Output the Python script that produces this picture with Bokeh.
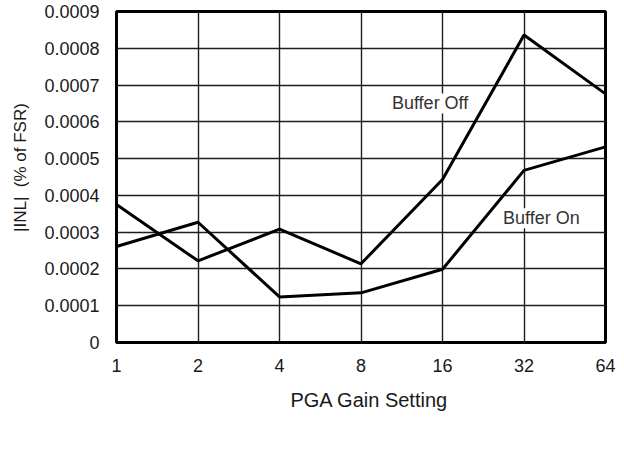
from bokeh.plotting import figure
from bokeh.models import FixedTicker, CustomJSTickFormatter, Label, ColumnDataSource
from bokeh.embed import file_html
from bokeh.resources import INLINE

gains = [1, 2, 4, 8, 16, 32, 64]
gain_labels = ["1", "2", "4", "8", "16", "32", "64"]
buffer_off = [0.000375, 0.000222, 0.000308, 0.000214, 0.000443, 0.000836, 0.000676]
buffer_on = [0.000261, 0.000327, 0.000124, 0.000135, 0.000199, 0.000468, 0.000532]
y_ticks = [0, 0.0001, 0.0002, 0.0003, 0.0004, 0.0005, 0.0006, 0.0007, 0.0008, 0.0009]
y_tick_labels = ["0", "0.0001", "0.0002", "0.0003", "0.0004", "0.0005",
                 "0.0006", "0.0007", "0.0008", "0.0009"]

FONT = "Liberation Sans"
NB = "\u00a0"

p = figure(width=616, height=464, x_axis_type="log", x_range=(1, 64), y_range=(0, 0.0009),
           output_backend="svg", toolbar_location=None,
           min_border_left=116, min_border_right=11, min_border_top=11, min_border_bottom=122)

p.background_fill_color = "white"
p.border_fill_color = "white"
p.outline_line_color = "black"
p.outline_line_width = 3

fmt_js = """
let best = 0; let bd = Infinity;
for (let i = 0; i < tvals.length; i++) {
  const d = Math.abs(tvals[i] - tick);
  if (d < bd) { bd = d; best = i; }
}
return tlabels[best];
"""

p.xaxis.ticker = FixedTicker(ticks=gains)
p.xaxis.formatter = CustomJSTickFormatter(args=dict(tvals=gains, tlabels=gain_labels), code=fmt_js)
p.yaxis.ticker = FixedTicker(ticks=y_ticks)
p.yaxis.formatter = CustomJSTickFormatter(args=dict(tvals=y_ticks, tlabels=y_tick_labels), code=fmt_js)

for ax in (p.xaxis[0], p.yaxis[0]):
    ax.axis_line_color = None
    ax.major_tick_line_color = None
    ax.minor_tick_line_color = None
    ax.major_tick_out = 0
    ax.major_tick_in = 0
    ax.major_label_text_font = FONT
    ax.major_label_text_font_size = "18px"
    ax.major_label_text_color = "#1a1a1a"
    ax.axis_label_text_font = FONT
    ax.axis_label_text_font_style = "normal"
    ax.axis_label_text_color = "#1a1a1a"

p.xaxis.axis_label = NB * 3 + "PGA Gain Setting"
p.xaxis.axis_label_text_font_size = "20px"
p.xaxis.major_label_standoff = 16
p.xaxis.axis_label_standoff = 14

p.yaxis.axis_label = NB * 4 + "|INL|" + NB * 2 + "(% of FSR)"
p.yaxis.axis_label_text_font_size = "17px"
p.yaxis.major_label_standoff = 17
p.yaxis.axis_label_standoff = 11

p.xgrid.ticker = FixedTicker(ticks=gains)
p.ygrid.ticker = FixedTicker(ticks=y_ticks)
for g in (p.xgrid[0], p.ygrid[0]):
    g.grid_line_color = "#1e1e1e"
    g.grid_line_width = 1.4

src = ColumnDataSource(dict(gain=gains, off=buffer_off, on=buffer_on))
p.line("gain", "off", source=src, line_color="black", line_width=3)
p.line("gain", "on", source=src, line_color="black", line_width=3)

lbl_off = Label(x=14.4, y=0.00065, text="Buffer Off", text_align="center", text_baseline="middle",
                text_font=FONT, text_font_size="18px", text_color="#333333",
                background_fill_color="white")
lbl_on = Label(x=37.1, y=0.000338, text="Buffer On", text_align="center", text_baseline="middle",
               text_font=FONT, text_font_size="18px", text_color="#333333",
               background_fill_color="white")
p.add_layout(lbl_off)
p.add_layout(lbl_on)

open("out.html", "w").write(file_html(p, INLINE))
